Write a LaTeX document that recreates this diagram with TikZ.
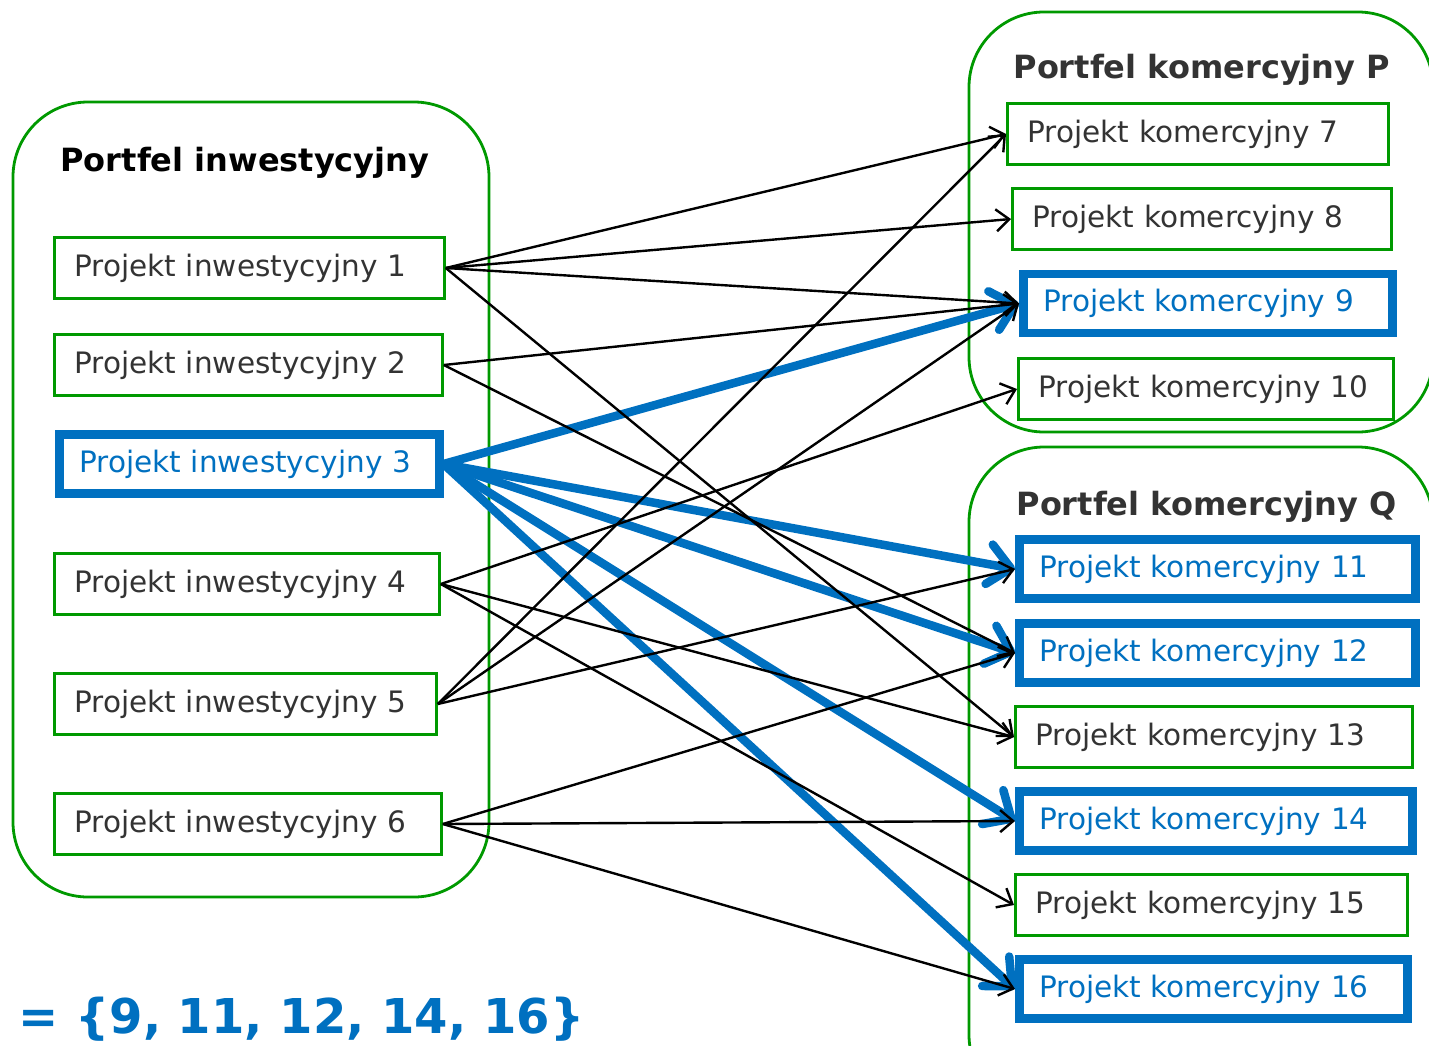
\documentclass[tikz,border=0pt]{standalone}
\usepackage{fontspec}
\setmainfont{DejaVu Sans}
\usetikzlibrary{arrows.meta}

\definecolor{zielony}{RGB}{0,153,0}
\definecolor{niebieski}{RGB}{0,112,192}
\definecolor{szary}{RGB}{51,51,51}

\tikzset{
  proj/.style={draw=zielony, line width=2.8pt, anchor=west, minimum height=61pt,
    inner xsep=20pt, inner ysep=0pt, text width=#1, align=left, text=szary,
    font=\fontsize{29.5}{32}\selectfont},
  projsel/.style={proj=#1, draw=niebieski, line width=8.5pt, text=niebieski, minimum height=59pt},
  link/.style={line width=2.4pt, -{Straight Barb[length=13pt,width=22pt]}},
  linksel/.style={niebieski, line width=8.5pt, -{Straight Barb[length=22pt,width=40pt,round]}},
  portfel/.style={draw=zielony, line width=2.8pt, rounded corners=75pt},
  tytul/.style={anchor=base west, font=\bfseries\fontsize{32}{34}\selectfont},
}

\begin{document}
\begin{tikzpicture}[x=1pt, y=-1pt]
\useasboundingbox (0,0) rectangle (1429,1045);
\clip (0,0) rectangle (1429,1045);

%portfele
\draw[portfel] (13,102) rectangle (489,897);
\draw[portfel] (969,12) rectangle (1433,432);
\draw[portfel] (969,447) rectangle (1433,1110);

\node[tytul] (tinw) at (57,171) {Portfel inwestycyjny};
\node[tytul, text=szary] (tkomp) at (1010,78) {Portfel komercyjny P};
\node[tytul, text=szary] (tkomq) at (1013,515) {Portfel komercyjny Q};

%projekty inwestycyjne
\node[proj=350pt] (i1) at (53,268) {Projekt inwestycyjny 1};
\node[proj=348pt] (i2) at (53,365) {Projekt inwestycyjny 2};
\node[projsel=340pt] (i3) at (55,464) {Projekt inwestycyjny 3};
\node[proj=345pt] (i4) at (53,584) {Projekt inwestycyjny 4};
\node[proj=342pt] (i5) at (53,704) {Projekt inwestycyjny 5};
\node[proj=347pt] (i6) at (53,824) {Projekt inwestycyjny 6};

%projekty komercyjne
\node[proj=341pt] (k7) at (1006,134) {Projekt komercyjny 7};
\node[proj=339pt] (k8) at (1011,219) {Projekt komercyjny 8};
\node[projsel=329pt] (k9) at (1019,303.5) {Projekt komercyjny 9};
\node[proj=335pt] (k10) at (1017,389) {Projekt komercyjny 10};
\node[projsel=356pt] (k11) at (1015,569) {Projekt komercyjny 11};
\node[projsel=356pt] (k12) at (1015,653) {Projekt komercyjny 12};
\node[proj=357pt] (k13) at (1014,737) {Projekt komercyjny 13};
\node[projsel=353pt] (k14) at (1015,821) {Projekt komercyjny 14};
\node[proj=352pt] (k15) at (1014,905) {Projekt komercyjny 15};
\node[projsel=348pt] (k16) at (1015,989) {Projekt komercyjny 16};

%powiazania
\foreach \k in {9,11,12,14,16}
  \draw[linksel] (i3.east) -- (k\k.west);

\foreach \i/\k in {1/7,1/8,1/9,1/13,2/9,2/12,4/10,4/13,4/15,5/7,5/9,5/11,6/12,6/14,6/16}
  \draw[link] (i\i.east) -- (k\k.west);

\node[anchor=base west, text=niebieski, font=\bfseries\fontsize{48}{50}\selectfont] (zbior) at (15,1033) {= \{9, 11, 12, 14, 16\}};

\end{tikzpicture}
\end{document}
